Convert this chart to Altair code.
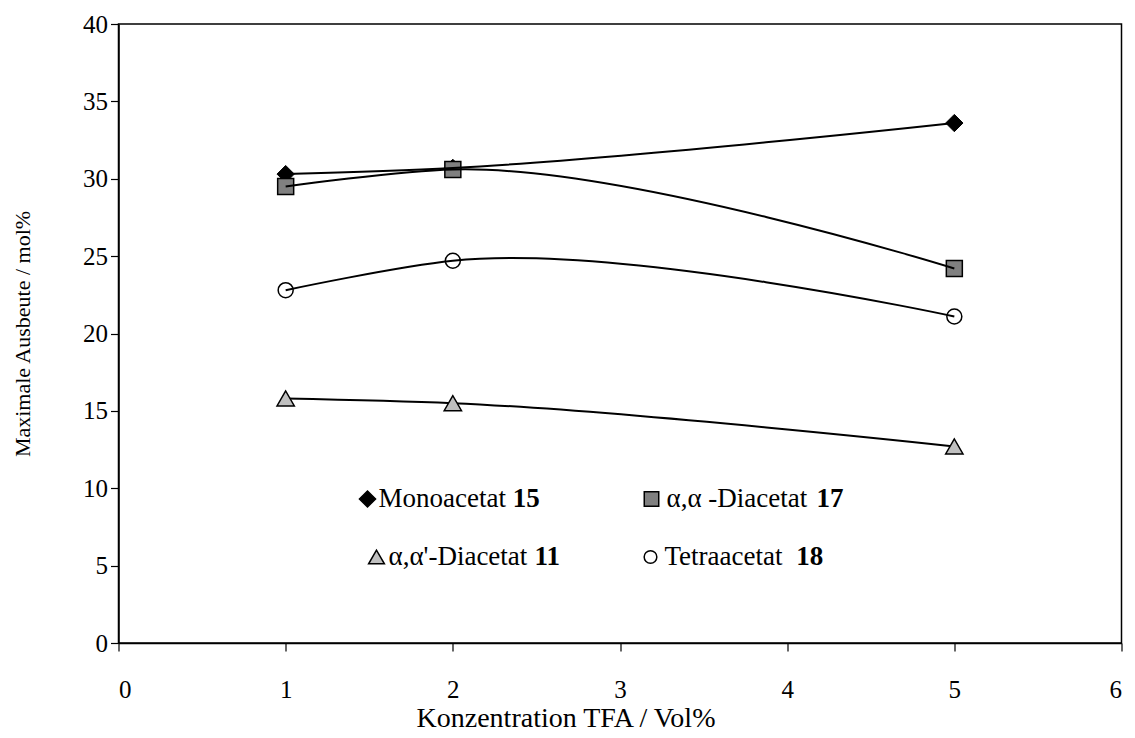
import altair as alt
import pandas as pd

# ---- data ----
x_conc = [1, 2, 5]
y_mono = [30.3, 30.7, 33.6]     # Monoacetat 15
y_aa = [29.5, 30.6, 24.2]       # α,α -Diacetat 17
y_aap = [15.8, 15.5, 12.7]      # α,α'-Diacetat 11
y_tetra = [22.8, 24.7, 21.1]    # Tetraacetat 18

names = ["Monoacetat", "α,α -Diacetat", "α,α'-Diacetat", "Tetraacetat"]
numbers = ["15", "17", "11", "18"]
x_ticks = [0, 1, 2, 3, 4, 5, 6]
y_ticks = [0, 5, 10, 15, 20, 25, 30, 35, 40]

shapes = ["diamond", "square", "triangle-up", "circle"]
fills = ["#000000", "#808080", "#c0c0c0", "#ffffff"]
sizes = [300, 256, 300, 225]
leg_sizes = [260, 210, 250, 160]

FONT = "Liberation Serif"
LEG_FS = 27
W, H = 1003, 619

# approximate Times/Liberation Serif advance widths (em) to place the bold numbers
_w = {"M": .889, "o": .5, "n": .5, "a": .444, "c": .444, "e": .444, "t": .278,
      "T": .611, "r": .333, "D": .722, "i": .278, "α": .531, ",": .25, " ": .25,
      "-": .333, "'": .18}
def text_w(s, fs):
    return sum(_w.get(ch, .5) for ch in s) * fs

series_vals = [y_mono, y_aa, y_aap, y_tetra]
frames = []
for n, ys in zip(names, series_vals):
    frames.append(pd.DataFrame({"x": x_conc, "y": ys, "s": n}))
df = pd.concat(frames, ignore_index=True)

x_enc = alt.X(
    "x:Q",
    scale=alt.Scale(domain=[0, 6], nice=False, zero=False),
    axis=alt.Axis(values=x_ticks, title="Konzentration TFA / Vol%", format="d",
                  labelPadding=38, labelBaseline="middle", labelFontSize=25,
                  titleFontSize=28,
                  titleY=75, titleX=447, titleAlign="center", titleBaseline="middle"),
)
y_enc = alt.Y(
    "y:Q",
    scale=alt.Scale(domain=[0, 40], nice=False),
    axis=alt.Axis(values=y_ticks, title="Maximale Ausbeute / mol%", format="d",
                  labelPadding=3, labelFontSize=25, titleFontSize=22,
                  titleX=-96, titleBaseline="middle"),
)

base = alt.Chart(df)

lines = base.mark_line(color="black", strokeWidth=2, interpolate="catmull-rom", tension=1).encode(
    x=x_enc, y=y_enc, detail="s:N"
)

def pts(i):
    return alt.Chart(df[df["s"] == names[i]]).mark_point(
        shape=shapes[i], filled=True, fill=fills[i], stroke="black",
        strokeWidth=1.5 if i != 0 else 1, size=sizes[i], opacity=1,
        fillOpacity=0 if i == 3 else 1,
    ).encode(x="x:Q", y="y:Q")

layers = [pts(0), pts(1), lines, pts(2), pts(3)]

# ---- legend inside the plot (pixel positions relative to plot area) ----
leg_pos = [
    # marker x, name x, y, extra gap before the number
    (249, 260, 475, 0),
    (533, 548, 475, 2),
    (258, 270, 533, 0),
    (532, 546, 533, 5),
]
for i, (mx, tx, ly, gap) in enumerate(leg_pos):
    one = pd.DataFrame({"k": [names[i]]})
    nx = tx + text_w(names[i] + " ", LEG_FS) + gap
    layers.append(
        alt.Chart(one).mark_point(
            shape=shapes[i], filled=True, fill=fills[i], stroke="black",
            strokeWidth=1.5, size=leg_sizes[i], opacity=1,
            fillOpacity=0 if i == 3 else 1,
        ).encode(x=alt.value(mx), y=alt.value(ly))
    )
    layers.append(
        alt.Chart(one).mark_text(
            text=names[i], font=FONT, fontSize=LEG_FS, align="left", baseline="middle", color="black"
        ).encode(x=alt.value(tx), y=alt.value(ly))
    )
    layers.append(
        alt.Chart(one).mark_text(
            text=numbers[i], font=FONT, fontSize=LEG_FS, fontWeight="bold", align="left",
            baseline="middle", color="black"
        ).encode(x=alt.value(nx), y=alt.value(ly))
    )

chart = alt.layer(*layers).properties(
    width=W, height=H,
    autosize=alt.AutoSizeParams(type="none"),
    padding={"left": 110.5, "top": 16, "right": 5, "bottom": 94},
    background="white",
).configure_axis(
    labelFont=FONT, titleFont=FONT,
    labelColor="black", titleColor="black", titleFontWeight="normal",
    domainColor="black", tickColor="black", domainWidth=1.5, tickWidth=1.2,
    tickSize=8, grid=False,
).configure_view(stroke="black", strokeWidth=1.5)

chart.save("out.html", embed_options={"renderer": "svg", "actions": False})
